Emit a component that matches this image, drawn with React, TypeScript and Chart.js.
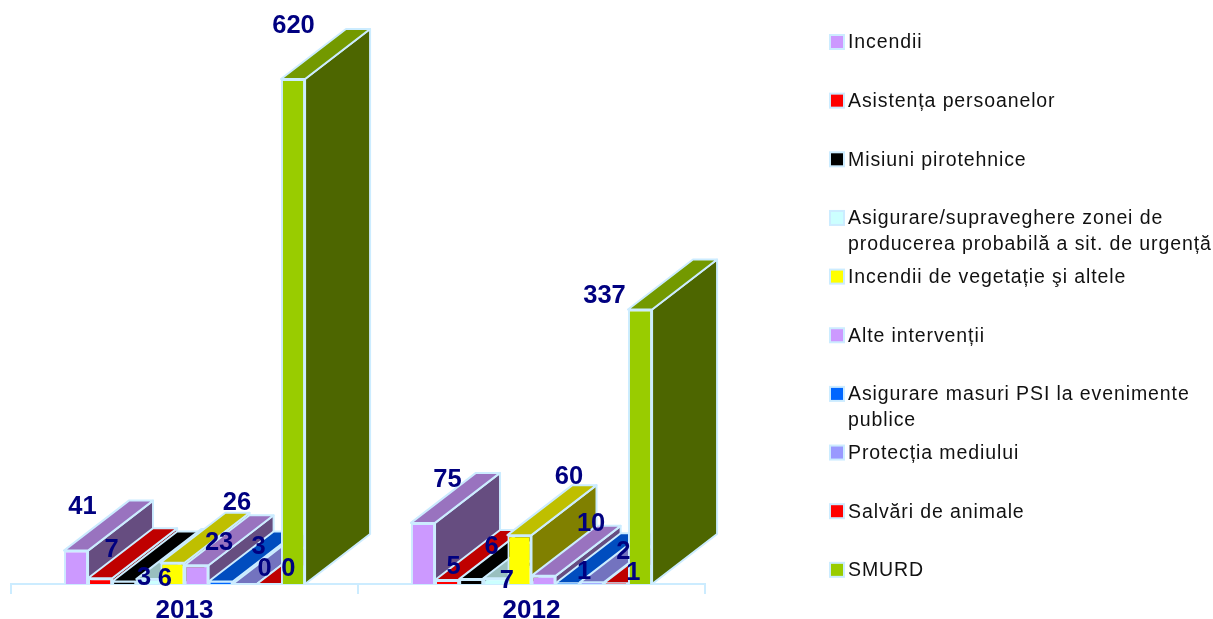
import React, { useEffect, useRef } from "react";
import { Chart, registerables } from "chart.js";

Chart.register(...registerables);

const years = ["2013", "2012"];
const seriesNames = [
  "Incendii",
  "Asistența persoanelor",
  "Misiuni pirotehnice",
  "Asigurare/supraveghere zonei de\nproducerea probabilă a sit. de urgență",
  "Incendii de vegetație şi altele",
  "Alte intervenții",
  "Asigurare masuri PSI la evenimente\npublice",
  "Protecția mediului",
  "Salvări de animale",
  "SMURD",
];
const values2013 = [41, 7, 3, 6, 26, 23, 3, 0, 0, 620];
const values2012 = [75, 5, 6, 7, 60, 10, 1, 2, 1, 337];

const frontColors = ["#CC99FF", "#FF0000", "#000000", "#CCFFFF", "#FFFF00", "#CC99FF", "#0066FF", "#9999FF", "#FF0000", "#99CC00"];
const topColors = ["#9973BF", "#BF0000", "#000000", "#99BFBF", "#BFBF00", "#9973BF", "#004DBF", "#7373BF", "#BF0000", "#739900"];
const sideColors = ["#664D80", "#800000", "#000000", "#668080", "#808000", "#664D80", "#003380", "#4D4D80", "#800000", "#4D6600"];
const EDGE = "#CCECFF";
const NAVY = "#000080";
const DEPTH_X = 65;
const DEPTH_Y = -50;

// Hand-placed label nudges: one [dx, dy] per bar, measured from the top centre of the bar.
const labelNudges2013 = [[5, -45], [10, -29], [18.5, -5], [15, -1], [63, -61], [21, -23], [36.5, -36], [18.3, -16], [18, -16], [-1, -54]];
const labelNudges2012 = [[23, -44], [5, -14], [19, -33], [10, 2], [48, -59], [46, -53], [15, -12], [30, -31], [16, -11], [-37, -15]];
const labelNudges = [labelNudges2013, labelNudges2012];

const LEGEND_BOX_X = 830;
const LEGEND_TEXT_X = 848;
const LEGEND_FIRST_Y = 42;
const LEGEND_STEP = 58.65;
const LEGEND_LINE = 25.5;

function quad(ctx: CanvasRenderingContext2D, pts: number[][], fill: string) {
  ctx.beginPath();
  ctx.moveTo(pts[0][0], pts[0][1]);
  for (let i = 1; i < pts.length; i++) ctx.lineTo(pts[i][0], pts[i][1]);
  ctx.closePath();
  ctx.fillStyle = fill;
  ctx.fill();
  ctx.strokeStyle = EDGE;
  ctx.lineWidth = 2;
  ctx.lineJoin = "round";
  ctx.stroke();
}

const depthPlugin = {
  id: "depthFaces",
  beforeDatasetsDraw(chart: any) {
    const ctx = chart.ctx;
    ctx.save();
    seriesNames.forEach((_, di) => {
      chart.getDatasetMeta(di).data.forEach((bar: any) => {
        const left = bar.x - bar.width / 2;
        const right = bar.x + bar.width / 2;
        const top = bar.y;
        const base = bar.base;
        quad(ctx, [[right, top], [right + DEPTH_X, top + DEPTH_Y], [right + DEPTH_X, base + DEPTH_Y], [right, base]], sideColors[di]);
        quad(ctx, [[left, top], [left + DEPTH_X, top + DEPTH_Y], [right + DEPTH_X, top + DEPTH_Y], [right, top]], topColors[di]);
      });
    });
    ctx.restore();
  },
};

const labelPlugin = {
  id: "valueLabels",
  afterDatasetsDraw(chart: any) {
    const ctx = chart.ctx;
    ctx.save();
    ctx.font = "bold 25.5px 'Liberation Sans'";
    ctx.fillStyle = NAVY;
    ctx.textAlign = "center";
    ctx.textBaseline = "middle";
    seriesNames.forEach((_, di) => {
      const ds = chart.data.datasets[di];
      chart.getDatasetMeta(di).data.forEach((bar: any, ci: number) => {
        const [dx, dy] = labelNudges[ci][di];
        ctx.fillText(String(ds.data[ci]), bar.x + dx + 1.5, bar.y + dy + 1);
      });
    });
    ctx.restore();
  },
};

const legendPlugin = {
  id: "sideLegend",
  afterDraw(chart: any) {
    const ctx = chart.ctx;
    ctx.save();
    ctx.textBaseline = "middle";
    ctx.textAlign = "left";
    ctx.font = "19.5px 'Liberation Sans'";
    (ctx as any).letterSpacing = "0.9px";
    seriesNames.forEach((name, i) => {
      const y = LEGEND_FIRST_Y + i * LEGEND_STEP;
      ctx.fillStyle = frontColors[i];
      ctx.strokeStyle = EDGE;
      ctx.lineWidth = 2;
      ctx.fillRect(LEGEND_BOX_X, y - 7, 14, 14);
      ctx.strokeRect(LEGEND_BOX_X, y - 7, 14, 14);
      ctx.fillStyle = "#111111";
      name.split("\n").forEach((line, li) => {
        ctx.fillText(line, LEGEND_TEXT_X, y + 1 + li * LEGEND_LINE);
      });
    });
    ctx.restore();
  },
};

export default function App() {
  const ref = useRef<HTMLCanvasElement>(null);
  useEffect(() => {
    const chart = new Chart(ref.current as HTMLCanvasElement, {
      type: "bar",
      data: {
        labels: years,
        datasets: seriesNames.map((name, i) => ({
          label: name,
          data: [values2013[i], values2012[i]],
          backgroundColor: frontColors[i],
          borderColor: EDGE,
          borderWidth: 2,
          barPercentage: 1,
          categoryPercentage: 0.695,
        })),
      },
      options: {
        responsive: false,
        animation: false,
        layout: { padding: { left: 11, right: 508, top: 0, bottom: 0 } },
        plugins: { legend: { display: false }, tooltip: { enabled: false }, title: { display: false } },
        scales: {
          x: {
            offset: true,
            z: 1,
            grid: { color: EDGE, lineWidth: 2, drawOnChartArea: false, drawTicks: true, tickLength: 10, offset: true },
            border: { color: EDGE, width: 2 },
            ticks: { color: NAVY, font: { family: "'Liberation Sans'", size: 26, weight: "bold" }, padding: 1, maxRotation: 0 },
            afterFit: (s: any) => { s.height = 35; },
          },
          y: { display: false, min: 0, max: 717 },
        },
      },
      plugins: [depthPlugin, labelPlugin, legendPlugin],
    } as any);
    return () => chart.destroy();
  }, []);
  return (
    <div style={{ position: "absolute", left: 0, top: 0, width: 1213, height: 619, background: "#fff" }}>
      <canvas ref={ref} width={1213} height={619} style={{ display: "block" }} />
    </div>
  );
}
